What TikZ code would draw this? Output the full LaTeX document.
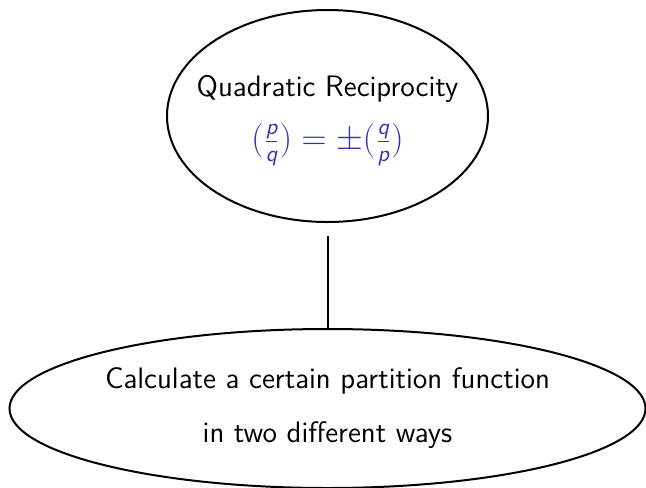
\documentclass[tikz,border=0pt]{standalone}
\usepackage{amsmath}
\usepackage{xcolor}
\usepackage{tikz}
\usetikzlibrary{shapes,positioning}
\definecolor{structblue}{rgb}{0.2, 0.2, 0.7}
\newcommand{\sv}[1]{\text{\sffamily\itshape #1}}

\begin{document}
\begin{tikzpicture}[x=0.5pt,y=-0.5pt,
    bubble/.style={ellipse,draw,line width=1pt,inner sep=0pt},
    words/.style={align=center,font=\sffamily\fontsize{14.8}{18}\selectfont}]
    \useasboundingbox (0,0) rectangle (646,487);

    % Quadratic reciprocity
    \node[bubble,minimum width=160.5pt,minimum height=106pt] (recip) at (327.5,116) {};
    \node[words,yshift=-2.5pt] (reciptext) at (recip) {Quadratic Reciprocity\\[8.5pt]
        {\fontsize{16.3}{18}\selectfont\color{structblue}$(\frac{\sv{p}}{\sv{q}}) = \pm(\frac{\sv{q}}{\sv{p}})$}};

    % Partition function
    \node[bubble,minimum width=318pt,minimum height=79.5pt,below=52.5pt of recip] (part) {};
    \node[words] (parttext) at (part) {Calculate a certain partition function\\[9pt]
        in two different ways};

    % Link
    \draw[line width=1pt,shorten <=6.5pt] (recip.south) -- (part.north);
\end{tikzpicture}
\end{document}
